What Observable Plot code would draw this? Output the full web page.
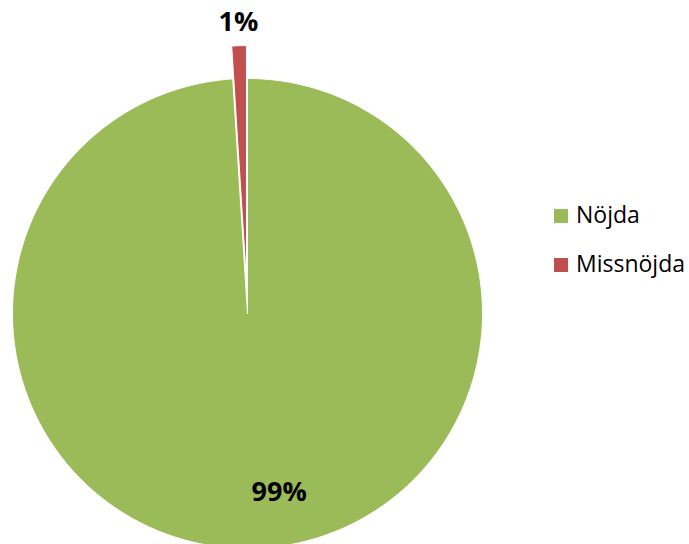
<!DOCTYPE html>
<html><head><meta charset="utf-8">
<script src="https://cdn.jsdelivr.net/npm/d3@7"></script>
<script src="https://cdn.jsdelivr.net/npm/@observablehq/plot@0.6"></script>
<style>
body{margin:0;background:#fff;}
#wrap{position:relative;width:689px;height:544px;overflow:hidden;font-family:"Open Sans",sans-serif;}
#wrap svg{position:absolute;left:0;top:0;}
.lg{position:absolute;left:554px;display:flex;align-items:flex-start;}
.sw{width:14px;height:14px;margin-top:6px;}
.lt{margin-left:8px;font-size:23px;line-height:23px;color:#000;white-space:nowrap;}
</style></head><body><div id="wrap"></div>
<script>
const categories = ["Nöjda", "Missnöjda"];
const values = [99, 1];
const labels = ["99%", "1%"];
const colors = ["#9BBB59", "#C0504D"];
const explode = [0, 0.14];
const labelRadius = [0.76, 1.10];

const arcs = d3.pie().sort(null).value(d => d)(values);
const pts = [];
const labs = [];
arcs.forEach((s, i) => {
  const mid = (s.startAngle + s.endAngle) / 2;
  const ox = explode[i] * Math.sin(mid), oy = explode[i] * Math.cos(mid);
  pts.push({cat: categories[i], x: ox, y: oy});
  const n = Math.max(4, Math.ceil((s.endAngle - s.startAngle) / (Math.PI / 360)));
  for (let k = 0; k <= n; k++) {
    const a = s.startAngle + (s.endAngle - s.startAngle) * k / n;
    pts.push({cat: categories[i], x: ox + Math.sin(a), y: oy + Math.cos(a)});
  }
  pts.push({cat: categories[i], x: ox, y: oy});
  labs.push({text: labels[i], x: ox + labelRadius[i] * Math.sin(mid), y: oy + labelRadius[i] * Math.cos(mid)});
});

const chart = Plot.plot({
  width: 689, height: 544, margin: 0,
  x: {domain: [-247/235, 442/235], axis: null},
  y: {domain: [-231/235, 313/235], axis: null},
  color: {domain: categories, range: colors},
  style: {background: "transparent"},
  marks: [
    Plot.line(pts, {x: "x", y: "y", z: "cat", fill: "cat", stroke: "white", strokeWidth: 1, strokeLinejoin: "round"}),
    Plot.text([labs[0]], {x: "x", y: "y", text: "text", dx: 26, fontSize: 27, fontWeight: "bold", fill: "#000", fontFamily: "Open Sans"}),
    Plot.text([labs[1]], {x: "x", y: "y", text: "text", fontSize: 27, fontWeight: "bold", fill: "#000", fontFamily: "Open Sans"})
  ]
});
const wrap = document.getElementById("wrap");
wrap.appendChild(chart);
const tops = [203, 252];
categories.forEach((c, i) => {
  const row = document.createElement("div");
  row.className = "lg";
  row.style.top = tops[i] + "px";
  row.innerHTML = `<div class="sw" style="background:${colors[i]}"></div><div class="lt">${c}</div>`;
  wrap.appendChild(row);
});
</script></body></html>
